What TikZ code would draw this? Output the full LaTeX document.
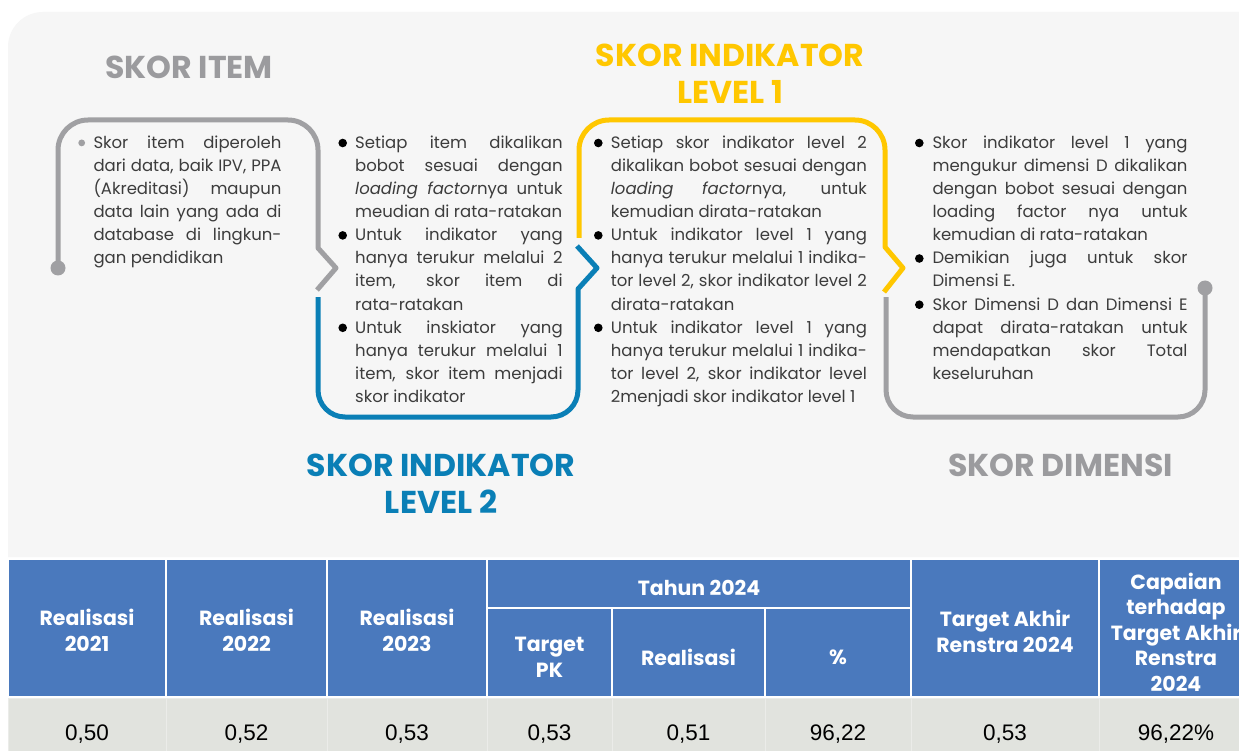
\documentclass[tikz,border=0pt]{standalone}
\usepackage{fontspec}
\setmainfont{Poppins}
\newfontfamily\numfont{Liberation Sans}
\definecolor{bgc}{HTML}{F6F6F6}
\definecolor{gline}{HTML}{A0A0A3}
\definecolor{gtitle}{HTML}{9B9B9E}
\definecolor{yel}{HTML}{FFC700}
\definecolor{blu}{HTML}{0A7FB6}
\definecolor{txtc}{HTML}{3C3C3C}
\definecolor{hblue}{HTML}{4A79BD}
\definecolor{drow}{HTML}{E1E3DE}
\definecolor{dline}{HTML}{EBECE9}
\newcommand\jline[2]{\makebox[#1][s]{#2}}
\tikzset{
  conn/.style={line width=5pt, line cap=butt, line join=round},
  title/.style={font=\bfseries\fontsize{31.6}{36}\selectfont, anchor=base, inner sep=0pt},
  txt/.style={font=\fontsize{16.5}{23}\selectfont, text=txtc, anchor=base west, inner sep=0pt},
  hcellt/.style={font=\bfseries\fontsize{20.5}{25.5}\selectfont, text=white, align=center, inner sep=0pt},
  dval/.style={font=\numfont\fontsize{22.5}{26}\selectfont, text=black, anchor=base, inner sep=0pt},
  hcell/.style={fill=hblue, draw=white, line width=2pt},
  dcell/.style={fill=drow, draw=dline, line width=1pt},
}
\begin{document}
\begin{tikzpicture}[x=1pt,y=-1pt]
\useasboundingbox (0,0) rectangle (1239,751);
\clip (0,0) rectangle (1239,751);
\fill[white] (0,0) rectangle (1239,751);
% background panel
\fill[bgc] (8,557) [rounded corners=35pt] -- (8,12) -- (1300,12) [sharp corners] -- (1300,557) -- cycle;

% titles
\node[title, text=gtitle] (tItem) at (189,78.3) {SKOR ITEM};
\node[title, text=yel] (tL1a) at (730,66.7) {SKOR INDIKATOR};
\node[title, text=yel] (tL1b) at (730,103.3) {LEVEL 1};
\node[title, text=blu] (tL2a) at (441,476.7) {SKOR INDIKATOR};
\node[title, text=blu] (tL2b) at (441,513.3) {LEVEL 2};
\node[title, text=gtitle] (tDim) at (1060.5,476) {SKOR DIMENSI};

% connectors
\draw[conn, gline] (58,268) [rounded corners=30pt] -- (58,120) -- (318,120) -- (318,200) [sharp corners] -- (318,248) -- (336,268) -- (317,290);
\fill[gline] (58,268) circle (7.5pt);
\draw[conn, blu] (318,297) [rounded corners=27pt] -- (318,417) -- (578,417) -- (578,340) [sharp corners] -- (578,289) -- (597,268) -- (577,246);
\draw[conn, yel] (579,238) [rounded corners=30pt] -- (579,120) -- (885,120) -- (885,200) [sharp corners] -- (885,247) -- (903,268) -- (884,292);
\draw[conn, gline] (886,297) [rounded corners=27pt] -- (886,417) -- (1205,417) -- (1205,288);
\fill[gline] (1205,288) circle (7.5pt);

% bullets
\fill[gline] (81.7,142.9) circle (3.4pt);
\foreach \k in {1,5,9} \fill[black] (342.7,{143+23.1*(\k-1)}) circle (4.3pt);
\foreach \k in {1,5,9} \fill[black] (598.3,{143+23.1*(\k-1)}) circle (4.3pt);
\foreach \k in {1,6,8} \fill[black] (919.3,{143+23.1*(\k-1)}) circle (4.3pt);

% box 1 text
\foreach \t [count=\i] in {
  {\jline{188pt}{Skor item diperoleh}},
  {\jline{188pt}{dari data, baik IPV, PPA}},
  {\jline{188pt}{(Akreditasi) maupun}},
  {\jline{188pt}{data lain yang ada di}},
  {\jline{188pt}{database di lingkun-}},
  {gan pendidikan}}
  \node[txt] (a\i) at (93.3,{148.3+23.1*(\i-1)}) {\t};

% box 2 text
\foreach \t [count=\i] in {
  {\jline{207.5pt}{Setiap item dikalikan}},
  {\jline{207.5pt}{bobot sesuai dengan}},
  {\jline{207.5pt}{\textit{loading factor}nya untuk}},
  {meudian di rata-ratakan},
  {\jline{207.5pt}{Untuk indikator yang}},
  {\jline{207.5pt}{hanya terukur melalui 2}},
  {\jline{207.5pt}{item, skor item di}},
  {rata-ratakan},
  {\jline{207.5pt}{Untuk inskiator yang}},
  {\jline{207.5pt}{hanya terukur melalui 1}},
  {\jline{207.5pt}{item, skor item menjadi}},
  {skor indikator}}
  \node[txt] (b\i) at (355,{148.3+23.1*(\i-1)}) {\t};

% box 3 text
\foreach \t [count=\i] in {
  {\jline{256pt}{Setiap skor indikator level 2}},
  {\jline{256pt}{dikalikan bobot sesuai dengan}},
  {\jline{256pt}{\textit{loading} \textit{factor}nya, untuk}},
  {kemudian dirata-ratakan},
  {\jline{256pt}{Untuk indikator level 1 yang}},
  {\jline{256pt}{hanya terukur melalui 1 indika-}},
  {\jline{256pt}{tor level 2, skor indikator level 2}},
  {dirata-ratakan},
  {\jline{256pt}{Untuk indikator level 1 yang}},
  {\jline{256pt}{hanya terukur melalui 1 indika-}},
  {\jline{256pt}{tor level 2, skor indikator level}},
  {2menjadi skor indikator level 1}}
  \node[txt] (c\i) at (610.7,{148.3+23.1*(\i-1)}) {\t};

% box 4 text
\foreach \t [count=\i] in {
  {\jline{255pt}{Skor indikator level 1 yang}},
  {\jline{255pt}{mengukur dimensi D dikalikan}},
  {\jline{255pt}{dengan bobot sesuai dengan}},
  {\jline{255pt}{loading factor nya untuk}},
  {kemudian di rata-ratakan},
  {\jline{255pt}{Demikian juga untuk skor}},
  {Dimensi E.},
  {\jline{255pt}{Skor Dimensi D dan Dimensi E}},
  {\jline{255pt}{dapat dirata-ratakan untuk}},
  {\jline{255pt}{mendapatkan skor Total}},
  {keseluruhan}}
  \node[txt] (d\i) at (932.3,{148.3+23.1*(\i-1)}) {\t};

% table header cells
\draw[hcell] (8,559) rectangle (166,697);
\draw[hcell] (166,559) rectangle (327,697);
\draw[hcell] (327,559) rectangle (487,697);
\draw[hcell] (487,559) rectangle (911,608);
\draw[hcell] (487,608) rectangle (612,697);
\draw[hcell] (612,608) rectangle (765,697);
\draw[hcell] (765,608) rectangle (911,697);
\draw[hcell] (911,559) rectangle (1099,697);
\draw[hcell] (1099,559) rectangle (1253,697);
% data cells
\foreach \xa/\xb in {8/166,166/327,327/487,487/612,612/765,765/911,911/1099,1099/1253}
  \draw[dcell] (\xa,698) rectangle (\xb,770);

% header texts
\node[hcellt] (h1) at (87,630.5) {Realisasi\\2021};
\node[hcellt] (h2) at (246.5,630.5) {Realisasi\\2022};
\node[hcellt] (h3) at (407,630.5) {Realisasi\\2023};
\node[hcellt] (h4) at (699,587.7) {Tahun 2024};
\node[hcellt] (h5) at (549.5,657.5) {Target\\PK};
\node[hcellt] (h6) at (688.5,657) {Realisasi};
\node[hcellt] (h7) at (838,657) {\%};
\node[hcellt] (h8) at (1005,631.5) {Target Akhir\\Renstra 2024};
\node[hcellt] (h9) at (1176,632) {Capaian\\terhadap\\Target Akhir\\Renstra\\2024};

% data values
\node[dval] (v1) at (87,740) {0,50};
\node[dval] (v2) at (246.5,740) {0,52};
\node[dval] (v3) at (407,740) {0,53};
\node[dval] (v4) at (549.5,740) {0,53};
\node[dval] (v5) at (688.5,740) {0,51};
\node[dval] (v6) at (838,740) {96,22};
\node[dval] (v7) at (1005,740) {0,53};
\node[dval] (v8) at (1176,740) {96,22\%};
\end{tikzpicture}
\end{document}
